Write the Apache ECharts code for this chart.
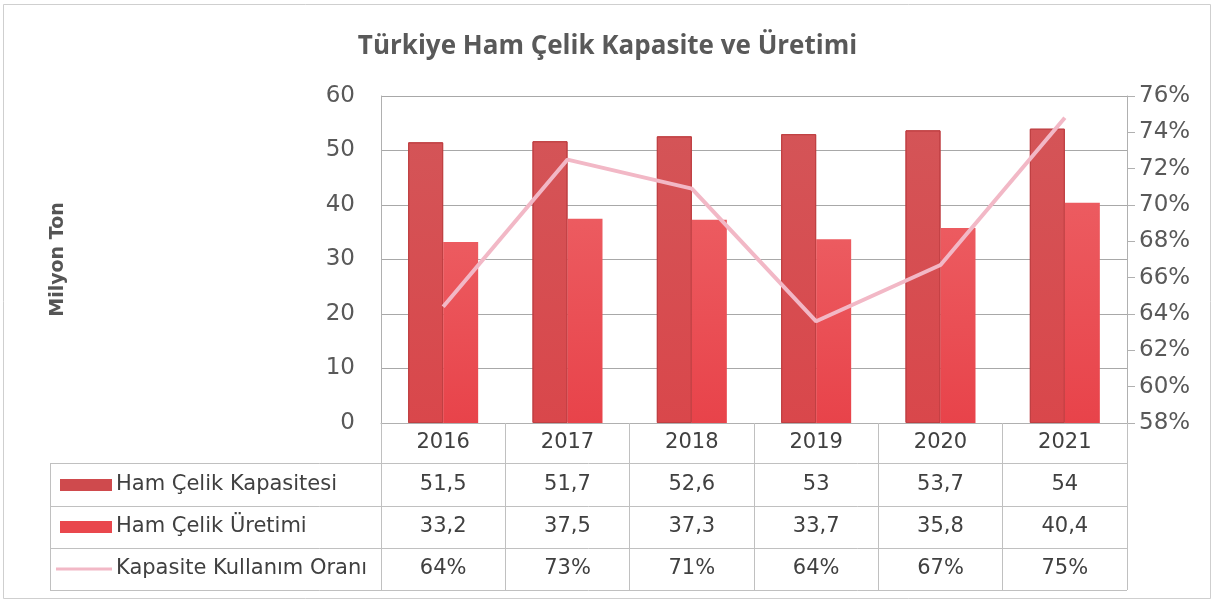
<!DOCTYPE html>
<html>
<head>
<meta charset="utf-8">
<script src="https://cdn.jsdelivr.net/npm/echarts@6/dist/echarts.min.js"></script>
<style>
  html, body { margin: 0; padding: 0; background: #fff; }
  #chart { width: 1215px; height: 605px; }
</style>
</head>
<body>
<div id="chart"></div>
<script>
// data
const years = ['2016', '2017', '2018', '2019', '2020', '2021'];
const capacity = [51.5, 51.7, 52.6, 53, 53.7, 54];
const production = [33.2, 37.5, 37.3, 33.7, 35.8, 40.4];
const utilization = [64.4, 72.5, 70.9, 63.6, 66.7, 74.8];
const seriesNames = ['Ham Çelik Kapasitesi', 'Ham Çelik Üretimi', 'Kapasite Kullanım Oranı'];

const FONT = '"DejaVu Sans", sans-serif';
const TITLE_FONT = '"Open Sans", sans-serif';
const TXT = '#404040';
const AXIS_TXT = '#595959';
const C_CAP = '#cf4a4d';
const C_PROD = '#e9474d';
const C_LINE = '#f2b8c6';

const chart = echarts.init(document.getElementById('chart'));

const fmtNum = v => String(v).replace('.', ',');
const fmtPct = v => Math.round(v) + '%';

const option = {
  backgroundColor: '#fff',
  animation: false,
  title: {
    text: 'Türkiye Ham Çelik Kapasite ve Üretimi',
    left: 'center',
    top: 29,
    textStyle: { fontFamily: TITLE_FONT, fontSize: 26, fontWeight: 'bold', color: '#595959' }
  },
  grid: { left: 381, right: 88, top: 96, bottom: 182 },
  xAxis: {
    type: 'category',
    data: years,
    axisLine: { lineStyle: { color: '#b0b0b0' } },
    axisTick: { show: true, length: 167, lineStyle: { color: '#c0c0c0' } },
    axisLabel: { fontFamily: FONT, fontSize: 21, color: TXT, margin: 9 }
  },
  yAxis: [
    {
      type: 'value',
      min: 0, max: 60, interval: 10,
      name: 'Milyon Ton',
      nameLocation: 'middle',
      nameRotate: 90,
      nameGap: 313,
      nameTextStyle: { fontFamily: FONT, fontSize: 19, fontWeight: 'bold', color: '#555' },
      axisLine: { show: true, lineStyle: { color: '#b0b0b0' } },
      axisTick: { show: false },
      axisLabel: { fontFamily: FONT, fontSize: 23, color: AXIS_TXT, margin: 26 },
      splitLine: { lineStyle: { color: '#a8a8a8' } }
    },
    {
      type: 'value',
      min: 58, max: 76, interval: 2,
      position: 'right',
      axisLine: { show: true, lineStyle: { color: '#b0b0b0' } },
      axisTick: { show: true, length: 8, lineStyle: { color: '#b0b0b0' } },
      axisLabel: { fontFamily: FONT, fontSize: 23, color: AXIS_TXT, margin: 12, formatter: '{value}%' },
      splitLine: { show: false }
    }
  ],
  series: [
    {
      name: seriesNames[0],
      type: 'bar',
      data: capacity,
      barWidth: 35,
      barGap: '0%',
      itemStyle: {
        borderColor: '#bf3f42',
        borderWidth: 1,
        color: new echarts.graphic.LinearGradient(0, 0, 0, 1, [
          { offset: 0, color: '#d45457' }, { offset: 1, color: '#d9474b' }
        ])
      }
    },
    {
      name: seriesNames[1],
      type: 'bar',
      data: production,
      barWidth: 35,
      itemStyle: {
        color: new echarts.graphic.LinearGradient(0, 0, 0, 1, [
          { offset: 0, color: '#ec5b60' }, { offset: 1, color: '#e8434a' }
        ])
      }
    },
    {
      name: seriesNames[2],
      type: 'line',
      yAxisIndex: 1,
      data: utilization,
      symbol: 'none',
      lineStyle: { color: C_LINE, width: 4 },
      z: 5
    }
  ]
};

chart.setOption(option);

// data table under the axis
const rowY = [485, 527, 569];
const rowLines = [463, 506, 548, 590];
const tableLeft = 50, tableRight = 1127;
const rows = [
  capacity.map(fmtNum),
  production.map(fmtNum),
  utilization.map(fmtPct)
];
const graphic = [
  {
    type: 'rect', silent: true,
    shape: { x: 3.5, y: 4.5, width: 1207, height: 594 },
    style: { fill: 'none', stroke: '#cfcfcf', lineWidth: 1 }
  },
  {
    type: 'line', silent: true,
    shape: { x1: tableLeft + 0.5, y1: rowLines[0], x2: tableLeft + 0.5, y2: rowLines[3] },
    style: { stroke: '#c0c0c0', lineWidth: 1 }
  }
];
rowLines.forEach(y => {
  graphic.push({
    type: 'line', silent: true,
    shape: { x1: tableLeft, y1: y + 0.5, x2: tableRight, y2: y + 0.5 },
    style: { stroke: '#c0c0c0', lineWidth: 1 }
  });
});
rows.forEach((row, r) => {
  row.forEach((txt, i) => {
    const x = chart.convertToPixel({ xAxisIndex: 0 }, i);
    graphic.push({
      type: 'text', silent: true,
      x: x, y: rowY[r],
      style: { text: txt, fontFamily: FONT, fontSize: 21, fill: TXT, align: 'center', verticalAlign: 'middle' }
    });
  });
});
// legend keys in the table
const keyColors = [C_CAP, C_PROD];
seriesNames.forEach((name, r) => {
  if (r < 2) {
    graphic.push({
      type: 'rect', silent: true,
      shape: { x: 60, y: rowY[r] - 6, width: 52, height: 12 },
      style: { fill: keyColors[r] }
    });
  } else {
    graphic.push({
      type: 'line', silent: true,
      shape: { x1: 56, y1: rowY[r], x2: 112, y2: rowY[r] },
      style: { stroke: C_LINE, lineWidth: 3 }
    });
  }
  graphic.push({
    type: 'text', silent: true,
    x: 116, y: rowY[r],
    style: { text: name, fontFamily: FONT, fontSize: 21, fill: TXT, align: 'left', verticalAlign: 'middle' }
  });
});

chart.setOption({ graphic: graphic });
</script>
</body>
</html>
